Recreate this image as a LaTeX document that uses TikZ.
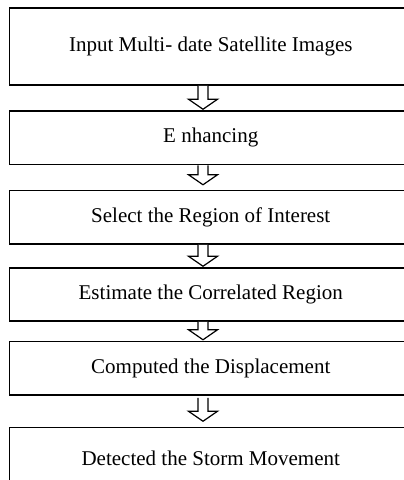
\documentclass[tikz,border=0pt]{standalone}
\usepackage{fontspec}
\setmainfont{Liberation Serif}
\usetikzlibrary{calc}
\tikzset{
  box/.style={draw=black, line width=1.5pt, rectangle, minimum width=402.5pt, inner sep=0pt, font=\fontsize{21}{25}\selectfont, text=black},
  harrow/.style={draw=black, line width=1.2pt, fill=white, line join=miter}
}
% #1 upper node, #2 lower node, #3 gap below upper, #4 gap above lower
\newcommand{\harr}[4]{%
  \draw[harrow] ($(#1.south -| ax)+(-5,#3)$) -- ($(#2.north -| ax)+(-5,-10-#4)$) -- ($(#2.north -| ax)+(-14.5,-10-#4)$) -- ($(#2.north -| ax)+(0,-#4)$) -- ($(#2.north -| ax)+(14.5,-10-#4)$) -- ($(#2.north -| ax)+(5,-10-#4)$) -- ($(#1.south -| ax)+(5,#3)$);}
\begin{document}
\begin{tikzpicture}[x=1pt,y=-1pt]
\useasboundingbox (0,0) rectangle (404,480);
\clip (0,0) rectangle (404,480);
\fill[white] (0,0) rectangle (404,480);
\coordinate (ax) at (203,0);
\node[box, minimum height=77pt] (b1) at (210.75,46.5) {Input Multi- date Satellite Images};
\node[box, minimum height=53.5pt] (b2) at (210.75,137.75) {E nhancing\hspace{30pt}};
\node[box, minimum height=53.5pt] (b3) at (210.75,217.25) {Select the Region of Interest\hspace{4pt}};
\node[box, minimum height=53pt] (b4) at (210.75,294.5) {Estimate the Correlated Region};
\node[box, minimum height=53.5pt] (b5) at (210.75,368.25) {Computed the Displacement\hspace{4pt}};
\node[box, minimum height=62.5pt] (b6) at (210.75,458.75) {Detected the Storm Movement};
\harr{b1}{b2}{0}{1}
\harr{b2}{b3}{0}{5}
\harr{b3}{b4}{0}{1}
\harr{b4}{b5}{0}{1}
\harr{b5}{b6}{2}{5.5}
\end{tikzpicture}
\end{document}
